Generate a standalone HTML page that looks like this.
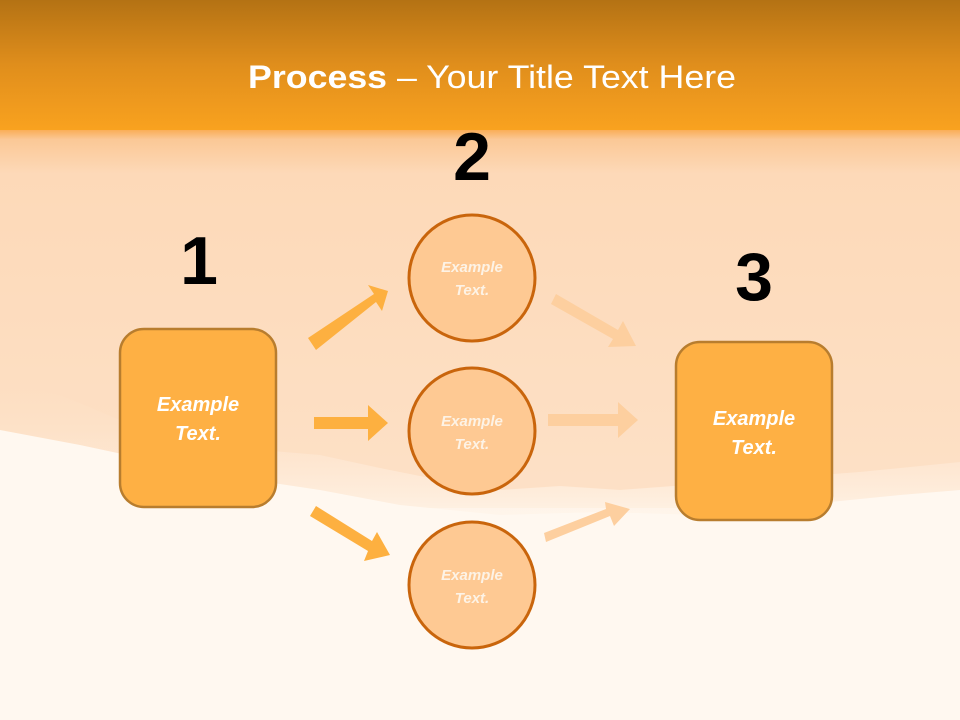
<!DOCTYPE html>
<html><head><meta charset="utf-8"><style>
html,body{margin:0;padding:0;width:960px;height:720px;overflow:hidden}
svg{display:block}
</style></head><body>
<svg width="960" height="720" viewBox="0 0 960 720" xmlns="http://www.w3.org/2000/svg" font-family="Liberation Sans, sans-serif">
<defs>
<linearGradient id="top" x1="0" y1="0" x2="0" y2="1">
<stop offset="0" stop-color="#b47214"/><stop offset="0.5" stop-color="#e08e1c"/><stop offset="1" stop-color="#f9a21f"/>
</linearGradient>
<linearGradient id="mid" x1="0" y1="0" x2="0" y2="1">
<stop offset="0" stop-color="#f9a84a"/><stop offset="0.03" stop-color="#fbc896"/><stop offset="0.12" stop-color="#fdd9b8"/><stop offset="1" stop-color="#fde1c7"/>
</linearGradient>
<linearGradient id="fade" x1="0" y1="0" x2="0" y2="1">
<stop offset="0" stop-color="#fde1c7" stop-opacity="0"/><stop offset="1" stop-color="#fff8f0"/>
</linearGradient>
</defs>
<rect width="960" height="720" fill="#fff8f0"/>
<rect y="128" width="960" height="380" fill="url(#mid)"/>
<path d="M0 380 L60 395 L120 420 L200 440 L260 450 L320 455 L380 468 L440 480 L500 490 L560 486 L620 490 L700 484 L780 478 L860 472 L960 462 L960 540 L0 540 Z" fill="url(#fade)"/>
<path d="M0 430 L80 445 L160 462 L240 478 L320 490 L400 505 L500 515 L600 512 L700 515 L800 505 L900 495 L960 490 L960 720 L0 720 Z" fill="#fff8f0"/>
<rect width="960" height="130" fill="url(#top)"/>
<text x="492" y="88" text-anchor="middle" font-size="32" fill="#fff" textLength="488" lengthAdjust="spacingAndGlyphs"><tspan font-weight="bold">Process</tspan> – Your Title Text Here</text>
<g font-weight="bold" font-size="68" fill="#000" text-anchor="middle">
<text x="472" y="180">2</text><text x="199" y="284">1</text><text x="754" y="300">3</text>
</g>
<g fill="#fdb040">
<polygon points="308,338 374,294 368,285 388,291 382,311 376,302 316,350"/>
<polygon points="314,417 368,417 368,405 388,423 368,441 368,429 314,429"/>
<polygon points="316,506 372,541 377,532 390,555 364,561 368,551 310,516"/>
</g>
<g fill="#fdcf9f">
<polygon points="556,294 618,330 623,321 636,346 608,347 613,339 551,304"/>
<polygon points="548,414 618,414 618,402 638,420 618,438 618,426 548,426"/>
<polygon points="546,542 610,516 614,526 630,509 605,502 606,509 544,533"/>
</g>
<g fill="#fec993" stroke="#c9650c" stroke-width="3">
<circle cx="472" cy="278" r="63"/><circle cx="472" cy="431" r="63"/><circle cx="472" cy="585" r="63"/>
</g>
<g fill="#feb044" stroke="#b87d2e" stroke-width="2.5">
<rect x="120" y="329" width="156" height="178" rx="24"/>
<rect x="676" y="342" width="156" height="178" rx="24"/>
</g>
<g fill="#fff" font-weight="bold" font-style="italic" text-anchor="middle">
<text x="198" y="411" font-size="20">Example</text><text x="198" y="440" font-size="20">Text.</text>
<text x="754" y="425" font-size="20">Example</text><text x="754" y="454" font-size="20">Text.</text>
<g font-size="15" fill="#fdf3e6">
<text x="472" y="272">Example</text><text x="472" y="295">Text.</text>
<text x="472" y="426">Example</text><text x="472" y="449">Text.</text>
<text x="472" y="580">Example</text><text x="472" y="603">Text.</text>
</g>
</g>
</svg>
</body></html>
